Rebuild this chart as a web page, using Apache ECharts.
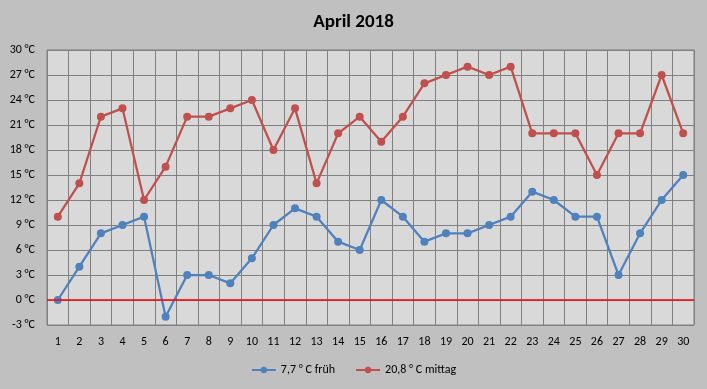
<!DOCTYPE html>
<html><head><meta charset="utf-8">
<script src="https://cdn.jsdelivr.net/npm/echarts@6/dist/echarts.min.js"></script>
<style>html,body{margin:0;padding:0;background:#c0c0c0}#c{width:707px;height:389px}</style>
</head><body><div id="c"></div>
<script>
const days = ['1','2','3','4','5','6','7','8','9','10','11','12','13','14','15','16','17','18','19','20','21','22','23','24','25','26','27','28','29','30'];
const frueh = [0,4,8,9,10,-2,3,3,2,5,9,11,10,7,6,12,10,7,8,8,9,10,13,12,10,10,3,8,12,15];
const mittag = [10,14,22,23,12,16,22,22,23,24,18,23,14,20,22,19,22,26,27,28,27,28,20,20,20,15,20,20,27,20];
const seriesNames = ['7,7 ° C früh','20,8 ° C mittag'];
const chart = echarts.init(document.getElementById('c'));
const font = 'Calibri, Carlito, "Open Sans", sans-serif';
chart.setOption({
  backgroundColor:'#c0c0c0',
  animation:false,
  title:{text:'April 2018',left:'center',top:8,textStyle:{fontFamily:font,fontSize:19,fontWeight:'bold',color:'#000'}},
  legend:{bottom:8,left:'center',itemWidth:24,itemHeight:8,itemGap:20,textStyle:{fontFamily:font,fontSize:12,color:'#000'},
    data:seriesNames},
  grid:{left:47,right:13,top:50,bottom:64,show:true,backgroundColor:'#d9d9d9',borderColor:'#808080',borderWidth:1},
  xAxis:{type:'category',data:days,boundaryGap:true,
    axisLine:{show:true,lineStyle:{color:'#808080'}},axisTick:{show:false},
    axisLabel:{fontFamily:font,fontSize:12,color:'#000',margin:11,interval:0},
    splitLine:{show:true,interval:0,lineStyle:{color:'#808080',width:1}}},
  yAxis:{type:'value',min:-3,max:30,interval:3,
    axisLine:{show:false},axisTick:{show:false},
    axisLabel:{fontFamily:font,fontSize:12,color:'#000',margin:12,formatter:v=>v+' °C'},
    splitLine:{lineStyle:{color:'#808080',width:1}}},
  series:[
    {name:seriesNames[0],type:'line',data:frueh,symbol:'circle',symbolSize:8,
     itemStyle:{color:'#4f81bd'},lineStyle:{width:2.25,color:'#4f81bd'},
     markLine:{silent:true,symbol:'none',label:{show:false},lineStyle:{color:'#ff0000',width:1.5,type:'solid'},data:[{yAxis:0}]}},
    {name:seriesNames[1],type:'line',data:mittag,symbol:'circle',symbolSize:8,
     itemStyle:{color:'#c0504d'},lineStyle:{width:2.25,color:'#c0504d'}}
  ]
});
</script></body></html>
